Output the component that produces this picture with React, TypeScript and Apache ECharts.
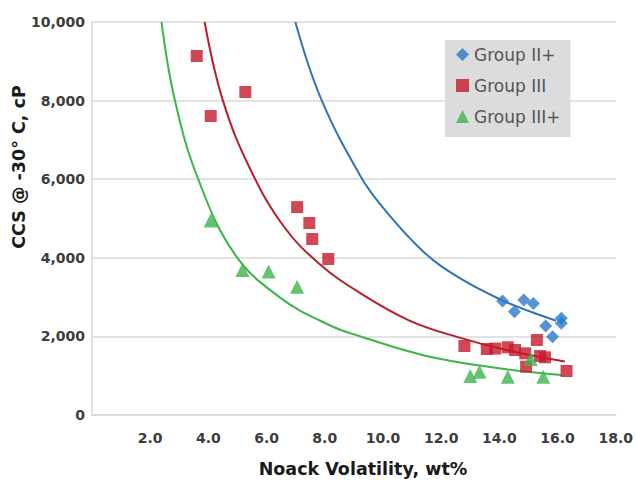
import React, { useEffect, useRef } from "react";
import * as echarts from "echarts";

// Scatter data
const groupIIPlusX = [14.11, 14.52, 14.84, 15.17, 15.59, 15.83, 16.13, 16.13];
const groupIIPlusY = [2900, 2630, 2926, 2840, 2265, 1993, 2460, 2333];

const groupIIIX = [3.6, 4.08, 5.27, 7.05, 7.47, 7.57, 8.12, 12.8, 13.57, 13.86, 14.29, 14.54, 14.89, 14.92, 15.29, 15.57, 15.4, 16.31];
const groupIIIY = [9135, 7608, 8219, 5290, 4885, 4478, 3970, 1756, 1680, 1690, 1722, 1654, 1570, 1230, 1908, 1467, 1500, 1120];

const groupIIIPlusX = [4.08, 5.17, 6.07, 7.05, 13.0, 13.32, 14.29, 15.08, 15.51];
const groupIIIPlusY = [4950, 3690, 3650, 3265, 992, 1100, 975, 1425, 975];

// Trend lines, points
const trendIIPlusX = [6.99, 7.87, 9.25, 10.03, 11.4, 12.6, 14.09, 15.11, 15.95];
const trendIIPlusY = [10000, 8050, 6050, 5250, 4150, 3500, 2920, 2620, 2400];

const trendIIIX = [3.87, 4.5, 5.45, 6.6, 7.81, 9.18, 10.89, 12.6, 14.32, 16.25];
const trendIIIY = [10000, 8000, 6240, 4790, 3850, 3120, 2410, 1975, 1640, 1360];

const trendIIIPlusX = [2.39, 2.85, 3.65, 4.9, 6.44, 8.15, 9.18, 11.46, 13.74, 16.14];
const trendIIIPlusY = [10000, 8000, 6000, 4100, 3000, 2290, 2010, 1510, 1215, 1015];

const seriesNames = ["Group II+", "Group III", "Group III+"];
const xAxisTitle = "Noack Volatility, wt%";
const yAxisTitle = "CCS @ -30\u00b0 C, cP";

const zip = (xs: number[], ys: number[]) => xs.map((x, i) => [x, ys[i]]);

export default function App() {
  const ref = useRef<HTMLDivElement>(null);
  useEffect(() => {
    if (!ref.current) return;
    const chart = echarts.init(ref.current, null, { renderer: "svg" });
    const blue = "#2b78c6";
    const red = "#c41a2b";
    const green = "#3cb44a";
    const labelStyle = { fontFamily: "DejaVu Sans", fontWeight: "bold", fontSize: 14, color: "#3c3c3c" };
    const titleStyle = { fontFamily: "DejaVu Sans", fontWeight: "bold", fontSize: 17.5, fill: "#1a1a1a" };
    const trend = (name: string, xs: number[], ys: number[], color: string) => ({
      name,
      type: "line",
      smooth: 0.4,
      showSymbol: false,
      data: zip(xs, ys),
      lineStyle: { color, width: 2 },
      z: 1,
    });
    chart.setOption({
      animation: false,
      backgroundColor: "#ffffff",
      grid: { left: 92, right: 18, top: 22, bottom: 65 },
      legend: {
        data: [
          { name: seriesNames[0], icon: "diamond" },
          { name: seriesNames[1], icon: "rect" },
          { name: seriesNames[2], icon: "triangle" },
        ],
        orient: "vertical",
        left: 445,
        top: 40,
        backgroundColor: "#dcdcdc",
        padding: [6, 10, 12, 11],
        itemGap: 14,
        itemWidth: 13,
        itemHeight: 13,
        textStyle: { fontFamily: "DejaVu Sans", fontSize: 17, color: "#555555" },
      },
      graphic: [
        {
          type: "text",
          x: 19,
          y: 167,
          rotation: Math.PI / 2,
          style: { text: yAxisTitle, ...titleStyle, textAlign: "center", textVerticalAlign: "middle" },
        },
        {
          type: "text",
          x: 363,
          y: 469,
          style: { text: xAxisTitle, ...titleStyle, textAlign: "center", textVerticalAlign: "middle" },
        },
      ],
      xAxis: {
        type: "value",
        min: 0,
        max: 18,
        interval: 2,
        axisLine: { show: true, lineStyle: { color: "#d9d9d9", width: 1.5 } },
        axisTick: { show: false },
        splitLine: { show: false },
        axisLabel: {
          margin: 16,
          ...labelStyle,
          formatter: (v: number) => (v === 0 ? "" : v.toFixed(1)),
        },
      },
      yAxis: {
        type: "value",
        min: 0,
        max: 10000,
        interval: 2000,
        axisLine: { show: true, lineStyle: { color: "#d9d9d9", width: 1.5 } },
        axisTick: { show: false },
        splitLine: { show: true, lineStyle: { color: "#d9d9d9", width: 1.5 } },
        axisLabel: {
          margin: 7,
          ...labelStyle,
          formatter: (v: number) => v.toLocaleString("en-US"),
        },
      },
      series: [
        trend("trend II+", trendIIPlusX, trendIIPlusY, "#2f75b5"),
        trend("trend III", trendIIIX, trendIIIY, "#b51f2e"),
        trend("trend III+", trendIIIPlusX, trendIIIPlusY, "#3db54a"),
        {
          name: seriesNames[0],
          type: "scatter",
          symbol: "diamond",
          symbolSize: 13,
          itemStyle: { color: blue },
          data: zip(groupIIPlusX, groupIIPlusY),
          z: 3,
        },
        {
          name: seriesNames[1],
          type: "scatter",
          symbol: "rect",
          symbolSize: 12,
          itemStyle: { color: red },
          data: zip(groupIIIX, groupIIIY),
          z: 3,
        },
        {
          name: seriesNames[2],
          type: "scatter",
          symbol: "triangle",
          symbolSize: 14,
          itemStyle: { color: green },
          data: zip(groupIIIPlusX, groupIIIPlusY),
          z: 4,
        },
      ],
    });
    return () => chart.dispose();
  }, []);
  return <div ref={ref} style={{ position: "absolute", left: 0, top: 0, width: 636, height: 480 }} />;
}
